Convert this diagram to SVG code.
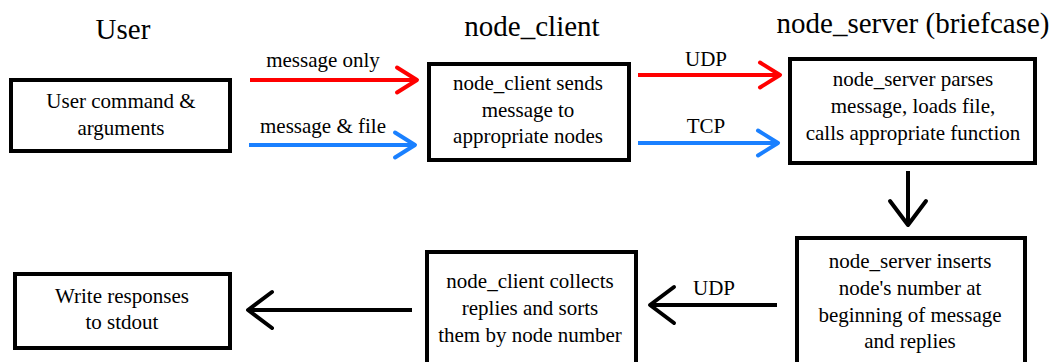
<svg xmlns="http://www.w3.org/2000/svg" width="1057" height="362" viewBox="0 0 1057 362">
  <style>
    .box { fill: #ffffff; stroke: #000000; stroke-width: 4; }
    .red { stroke: #ff0000; stroke-width: 4; fill: none; }
    .blue { stroke: #1a80ff; stroke-width: 4; fill: none; }
    .blk { stroke: #000000; stroke-width: 4; fill: none; }
  </style>
  <defs>
    <marker id="ah-red" markerUnits="userSpaceOnUse" markerWidth="30" markerHeight="30" refX="0" refY="0" orient="auto" overflow="visible">
      <path d="M-20,-12.5 L0,0 L-20,12.5" fill="none" stroke="#ff0000" stroke-width="4" stroke-linejoin="round" stroke-linecap="round"/>
    </marker>
    <marker id="ah-blue" markerUnits="userSpaceOnUse" markerWidth="30" markerHeight="30" refX="0" refY="0" orient="auto" overflow="visible">
      <path d="M-20,-12.5 L0,0 L-20,12.5" fill="none" stroke="#1a80ff" stroke-width="4" stroke-linejoin="round" stroke-linecap="round"/>
    </marker>
    <marker id="ah-blk" markerUnits="userSpaceOnUse" markerWidth="30" markerHeight="40" refX="0" refY="0" orient="auto" overflow="visible">
      <path d="M-24,-18 L0,0 L-24,18" fill="none" stroke="#000000" stroke-width="4" stroke-linejoin="round" stroke-linecap="round"/>
    </marker>
  </defs>
  <rect x="0" y="0" width="1057" height="362" fill="#ffffff"/>

  <g id="titles" font-family="Times New Roman, Liberation Serif, serif" font-size="29" text-anchor="middle">
    <text x="123" y="39">User</text>
    <text x="532" y="36">node_client</text>
    <text x="913" y="33">node_server (briefcase)</text>
  </g>

  <g id="node-user-command" font-family="Times New Roman, Liberation Serif, serif" font-size="21" text-anchor="middle">
    <rect class="box" x="11" y="80" width="219" height="71"/>
    <text x="121" y="108">User command &amp;</text>
    <text x="121" y="135">arguments</text>
  </g>

  <g id="node-client-sends" font-family="Times New Roman, Liberation Serif, serif" font-size="21" text-anchor="middle">
    <rect class="box" x="429" y="64" width="200" height="96"/>
    <text x="528" y="90">node_client sends</text>
    <text x="528" y="117">message to</text>
    <text x="528" y="143">appropriate nodes</text>
  </g>

  <g id="node-server-parses" font-family="Times New Roman, Liberation Serif, serif" font-size="21" text-anchor="middle">
    <rect class="box" x="790" y="59" width="245" height="104"/>
    <text x="913" y="86">node_server parses</text>
    <text x="913" y="113">message, loads file,</text>
    <text x="913" y="140">calls appropriate function</text>
  </g>

  <g id="node-server-inserts" font-family="Times New Roman, Liberation Serif, serif" font-size="21" text-anchor="middle">
    <rect class="box" x="797" y="238" width="228" height="140"/>
    <text x="910" y="268">node_server inserts</text>
    <text x="910" y="295">node's number at</text>
    <text x="910" y="322">beginning of message</text>
    <text x="910" y="348">and replies</text>
  </g>

  <g id="node-client-collects" font-family="Times New Roman, Liberation Serif, serif" font-size="21" text-anchor="middle">
    <rect class="box" x="427" y="252" width="209" height="130"/>
    <text x="530" y="288">node_client collects</text>
    <text x="530" y="315">replies and sorts</text>
    <text x="530" y="342">them by node number</text>
  </g>

  <g id="node-write-responses" font-family="Times New Roman, Liberation Serif, serif" font-size="21" text-anchor="middle">
    <rect class="box" x="15" y="274" width="215" height="74"/>
    <text x="122" y="303">Write responses</text>
    <text x="122" y="329">to stdout</text>
  </g>

  <g id="connectors" font-family="Times New Roman, Liberation Serif, serif" font-size="21" text-anchor="middle">
    <line class="red" x1="250" y1="80" x2="417" y2="80" marker-end="url(#ah-red)"/>
    <line class="blue" x1="249" y1="145" x2="415" y2="145" marker-end="url(#ah-blue)"/>
    <line class="red" x1="638" y1="75" x2="780" y2="75" marker-end="url(#ah-red)"/>
    <line class="blue" x1="638" y1="143" x2="778" y2="143" marker-end="url(#ah-blue)"/>
    <line class="blk" x1="908" y1="171" x2="908" y2="225" marker-end="url(#ah-blk)"/>
    <line class="blk" x1="777" y1="305" x2="650" y2="305" marker-end="url(#ah-blk)"/>
    <line class="blk" x1="412" y1="310" x2="248" y2="310" marker-end="url(#ah-blk)"/>
    <text x="323" y="67">message only</text>
    <text x="323" y="133">message &amp; file</text>
    <text x="706" y="66">UDP</text>
    <text x="706" y="133">TCP</text>
    <text x="714" y="295">UDP</text>
  </g>
</svg>
